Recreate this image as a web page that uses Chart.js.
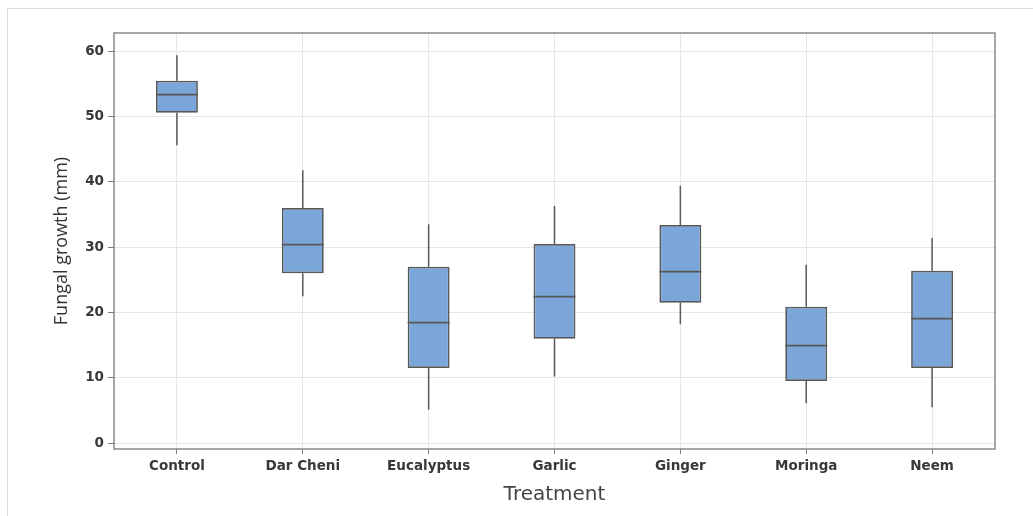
<!DOCTYPE html>
<html>
<head>
<meta charset="utf-8">
<script src="https://cdn.jsdelivr.net/npm/chart.js@4.4.1/dist/chart.umd.min.js"></script>
<style>
  html, body { margin: 0; padding: 0; background: #fff; }
  #frame { position: absolute; left: 7px; top: 8px; width: 1100px; height: 600px; border-top: 1px solid #dcdcdc; border-left: 1px solid #dcdcdc; }
  #wrap { position: absolute; left: 0; top: 0; width: 1033px; height: 516px; }
</style>
</head>
<body>
<div id="frame"></div>
<div id="wrap"><canvas id="chart" width="1033" height="516"></canvas></div>
<script>
// box plot values (mm)
const treatments = ['Control', 'Dar Cheni', 'Eucalyptus', 'Garlic', 'Ginger', 'Moringa', 'Neem'];
const whiskerLow = [45.6, 22.5, 5.1, 10.2, 18.2, 6.1, 5.5];
const q1 = [50.6, 26.0, 11.5, 16.0, 21.5, 9.5, 11.5];
const median = [53.4, 30.5, 18.5, 22.6, 26.4, 15.0, 19.1];
const q3 = [55.5, 36.0, 27.0, 30.5, 33.4, 20.9, 26.4];
const whiskerHigh = [59.4, 41.8, 33.5, 36.3, 39.4, 27.3, 31.4];
const yTicks = [0, 10, 20, 30, 40, 50, 60];

const lineColor = '#585858';

// whiskers behind the boxes, medians on top, frame around the plot
const boxPlotParts = {
    id: 'boxPlotParts',
    beforeDatasetsDraw(chart) {
        const { ctx, scales: { x, y } } = chart;
        ctx.save();
        ctx.strokeStyle = lineColor;
        ctx.lineWidth = 1.5;
        treatments.forEach((t, i) => {
            const px = x.getPixelForValue(i);
            ctx.beginPath();
            ctx.moveTo(px, y.getPixelForValue(whiskerLow[i]));
            ctx.lineTo(px, y.getPixelForValue(q1[i]));
            ctx.moveTo(px, y.getPixelForValue(q3[i]));
            ctx.lineTo(px, y.getPixelForValue(whiskerHigh[i]));
            ctx.stroke();
        });
        ctx.restore();
    },
    afterDatasetsDraw(chart) {
        const { ctx, chartArea, scales: { x, y } } = chart;
        const meta = chart.getDatasetMeta(0);
        ctx.save();
        ctx.strokeStyle = lineColor;
        ctx.lineWidth = 1.75;
        meta.data.forEach((bar, i) => {
            const half = bar.width / 2;
            const py = Math.round(y.getPixelForValue(median[i])) + 0.5;
            ctx.beginPath();
            ctx.moveTo(bar.x - half, py);
            ctx.lineTo(bar.x + half, py);
            ctx.stroke();
        });
        ctx.strokeStyle = '#8a8a8a';
        ctx.lineWidth = 1.5;
        ctx.strokeRect(chartArea.left, chartArea.top, chartArea.right - chartArea.left, chartArea.bottom - chartArea.top);
        ctx.restore();
    }
};

const tickFont = { family: '"DejaVu Sans", sans-serif', size: 13.5, weight: 'bold' };

new Chart(document.getElementById('chart'), {
    type: 'bar',
    data: {
        labels: treatments,
        datasets: [{
            data: treatments.map((t, i) => [q1[i], q3[i]]),
            backgroundColor: '#7ba6d9',
            borderColor: lineColor,
            borderWidth: 1.75,
            borderSkipped: false,
            categoryPercentage: 1,
            barPercentage: 0.333
        }]
    },
    options: {
        responsive: false,
        animation: false,
        layout: { padding: { top: 33, right: 38, left: 0, bottom: 0 } },
        plugins: { legend: { display: false }, tooltip: { enabled: false } },
        scales: {
            x: {
                offset: true,
                grid: { offset: false, color: '#e6e6e6', tickColor: '#7a7a7a', tickLength: 5 },
                border: { display: false },
                ticks: { color: '#383838', font: tickFont, padding: 4, maxRotation: 0 },
                title: {
                    display: true, text: 'Treatment', color: '#444',
                    font: { family: '"DejaVu Sans", sans-serif', size: 20 },
                    padding: { top: 0, bottom: 9 }
                },
                afterFit(scale) { scale.height = 67; }
            },
            y: {
                min: -0.9,
                max: 62.8,
                grid: { color: '#e6e6e6', tickColor: '#7a7a7a', tickLength: 6 },
                border: { display: false },
                afterBuildTicks(scale) { scale.ticks = yTicks.map(v => ({ value: v })); },
                ticks: { color: '#383838', font: tickFont, padding: 4 },
                title: {
                    display: true, text: 'Fungal growth (mm)', color: '#333',
                    font: { family: '"Open Sans", sans-serif', size: 18 },
                    padding: { top: 51, bottom: 0 }
                },
                afterFit(scale) { scale.width = 114; }
            }
        }
    },
    plugins: [boxPlotParts]
});
</script>
</body>
</html>
